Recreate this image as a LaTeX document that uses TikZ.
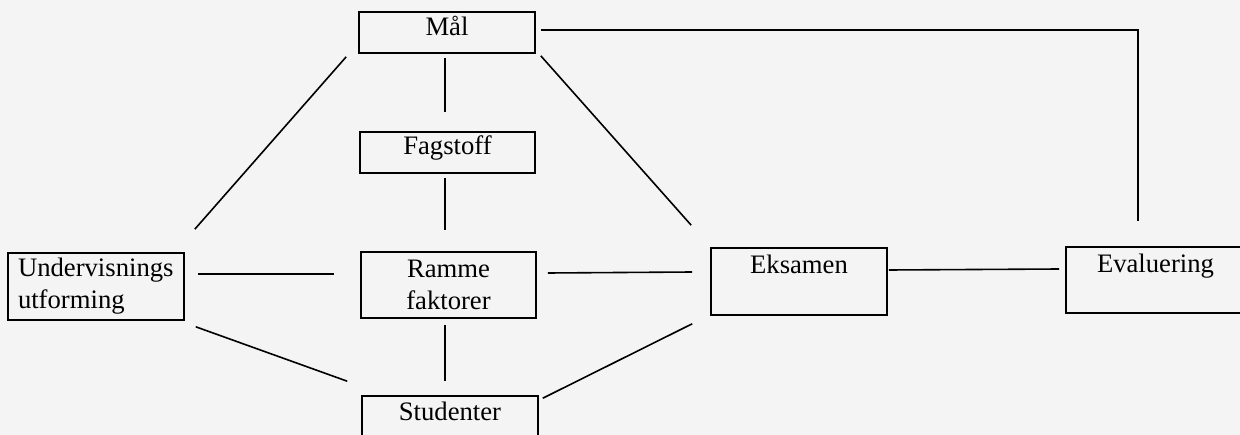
\documentclass[tikz,border=0pt]{standalone}
\usepackage{fontspec}
\setmainfont{Liberation Serif}
\begin{document}
\begin{tikzpicture}[x=0.75pt,y=-0.75pt,
  box/.style={draw=black, line width=1.2pt, rectangle, inner sep=0pt,
    font=\fontsize{20}{24}\selectfont, align=center},
  link/.style={draw=black, line width=1.2pt}]
\useasboundingbox (0,0) rectangle (1240,435);
\clip (0,0) rectangle (1240,435);
\fill[color={rgb,255:red,244;green,244;blue,244}] (0,0) rectangle (1240,435);

\node[box, minimum width=132pt, text height=18pt, text depth=12.75pt] (m) at (447,32.5) {Mål};
\node[box, minimum width=131.25pt, text height=17.25pt, text depth=13.5pt] (f) at (447.5,152.5) {Fagstoff};
\node[box, minimum width=132pt, minimum height=50.25pt, inner xsep=7.5pt, text width=117pt, align=left] (u) at (96,286.5) {Undervisnings\\utforming};
\node[box, minimum width=131.25pt, minimum height=49.5pt] (r) at (448.5,285) {Ramme\\faktorer};
\node[box, minimum width=132pt, text height=18.75pt, text depth=31.5pt] (e) at (799,281.5) {Eksamen};
\node[box, minimum width=134.25pt, text height=18.75pt, text depth=30.75pt] (ev) at (1155.5,280) {Evaluering};
\node[box, minimum width=132pt, text height=18pt, text depth=12.75pt] (s) at (450,416.5) {Studenter};

% vertical links
\draw[link] ([shift={(-2,4)}]m.south) -- ([shift={(-2.5,-19)}]f.north);
\draw[link] ([shift={(-2.5,4)}]f.south) -- ([shift={(-3.5,-21)}]r.north);
\draw[link] ([shift={(-3.5,6)}]r.south) -- ([shift={(-5,-14)}]s.north);
% horizontal links
\draw[link] ([shift={(13,-12.5)}]u.east) -- ([shift={(-26,-11)}]r.west);
\draw[link] ([shift={(11,-12)}]r.east) -- ([shift={(-18,-9.5)}]e.west);
\draw[link] ([shift={(1,-11.5)}]e.east) -- ([shift={(-6,-11)}]ev.west);
% Mål to Evaluering
\draw[link] ([shift={(5,-2.5)}]m.east) -| ([shift={(-17.5,-25)}]ev.north);
% diagonals
\draw[link] ([shift={(-12,3)}]m.south west) -- ([shift={(10,-23)}]u.north east);
\draw[link] ([shift={(5,2)}]m.south east) -- ([shift={(-19,-22)}]e.north west);
\draw[link] ([shift={(11,6)}]u.south east) -- ([shift={(-14,-14)}]s.north west);
\draw[link] ([shift={(-18,8)}]e.south west) -- ([shift={(4,3)}]s.north east);
\end{tikzpicture}
\end{document}
